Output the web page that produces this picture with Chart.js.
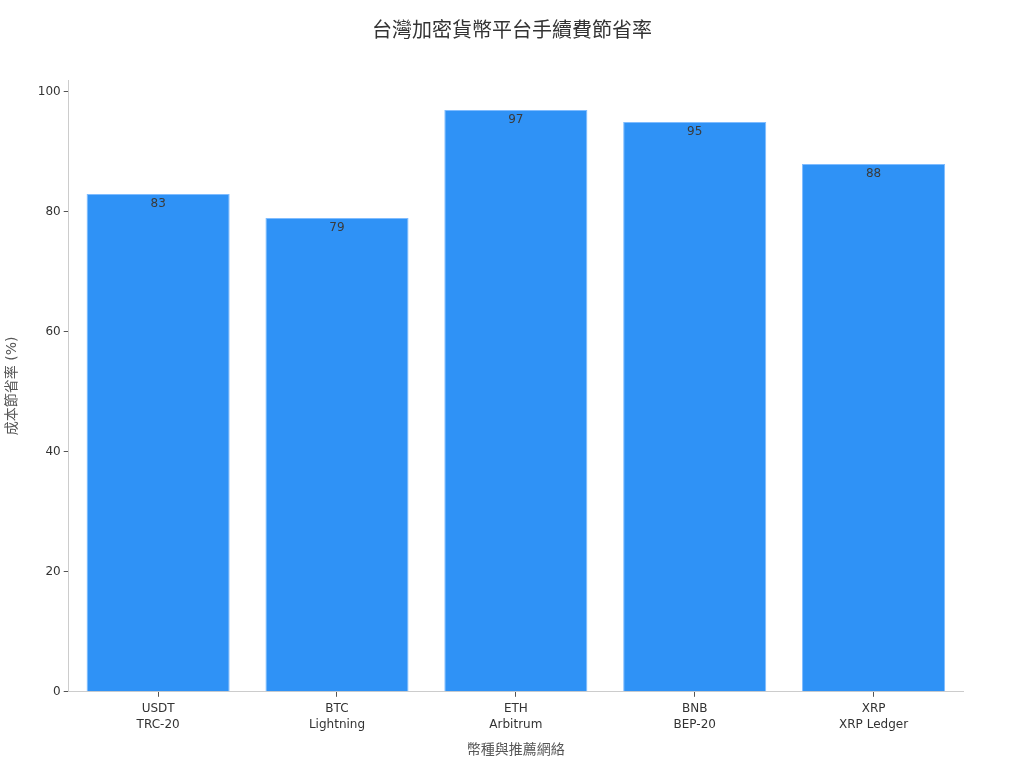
<!DOCTYPE html>
<html lang="zh-Hant">
<head>
    <meta charset="utf-8">
    <title>台灣加密貨幣平台手續費節省率</title>
    <style>
      * { margin: 0; padding: 0; }
      body { background: #ffffff; }
      .chartBox { width: 1024px; height: 768px; }
    </style>
</head>
<body>
    <div class="chartBox">
      <canvas id="savingChart"></canvas>
    </div>
    <script src="https://cdn.jsdelivr.net/npm/chart.js/dist/chart.umd.min.js"></script>
    <script>
        // data
        const chartTitle = '台灣加密貨幣平台手續費節省率';
        const coins = ['USDT', 'BTC', 'ETH', 'BNB', 'XRP'];
        const networks = ['TRC-20', 'Lightning', 'Arbitrum', 'BEP-20', 'XRP Ledger'];
        const savings = [83, 79, 97, 95, 88];
        const yTicks = [0, 20, 40, 60, 80, 100];

        const fontFamily = "'DejaVu Sans', 'Noto Sans CJK TC', sans-serif";

        // title centred on the whole canvas, not on the padded box
        const pageTitle = {
            id: 'pageTitle',
            afterDraw(chart) {
                const ctx = chart.ctx;
                ctx.save();
                ctx.font = '20px ' + fontFamily;
                ctx.fillStyle = '#333333';
                ctx.textAlign = 'center';
                ctx.textBaseline = 'middle';
                ctx.fillText(chartTitle, chart.width / 2, 32);
                ctx.restore();
            }
        };

        // writes each value just inside the top of its bar
        const valueLabels = {
            id: 'valueLabels',
            afterDatasetsDraw(chart) {
                const ctx = chart.ctx;
                const meta = chart.getDatasetMeta(0);
                ctx.save();
                ctx.font = '12px ' + fontFamily;
                ctx.fillStyle = '#3a3a3a';
                ctx.textAlign = 'center';
                ctx.textBaseline = 'top';
                meta.data.forEach((bar, i) => {
                    ctx.fillText(String(savings[i]), bar.x, bar.y + 4);
                });
                ctx.restore();
            }
        };

        new Chart(document.getElementById('savingChart'), {
            type: 'bar',
            data: {
                labels: coins.map((c, i) => [c, networks[i]]),
                datasets: [{
                    data: savings,
                    backgroundColor: '#2f92f6',
                    borderColor: '#7fbcff',
                    borderWidth: 1,
                    barPercentage: 0.8,
                    categoryPercentage: 1.0
                }]
            },
            options: {
                responsive: true,
                maintainAspectRatio: false,
                animation: false,
                layout: { padding: { top: 80, right: 61, bottom: 9, left: 0 } },
                plugins: {
                    legend: { display: false },
                    tooltip: { enabled: false },
                    title: { display: false }
                },
                scales: {
                    x: {
                        grid: { display: true, offset: false, drawOnChartArea: false, color: '#555555', tickLength: 5 },
                        border: { color: '#cccccc' },
                        ticks: {
                            color: '#333333',
                            font: { family: fontFamily, size: 12, lineHeight: 1.35 },
                            padding: 4
                        },
                        title: {
                            display: true,
                            text: '幣種與推薦網絡',
                            color: '#555555',
                            font: { family: fontFamily, size: 14 },
                            padding: { top: 5, bottom: 0 }
                        }
                    },
                    y: {
                        min: 0,
                        max: 102,
                        afterBuildTicks(scale) {
                            scale.ticks = yTicks.map(v => ({ value: v }));
                        },
                        grid: { display: true, drawOnChartArea: false, color: '#555555', tickLength: 5 },
                        border: { color: '#cccccc' },
                        ticks: { color: '#333333', font: { family: fontFamily, size: 12 }, padding: 3 },
                        title: {
                            display: true,
                            text: '成本節省率 (%)',
                            color: '#555555',
                            font: { family: fontFamily, size: 14 },
                            padding: { bottom: 14 }
                        }
                    }
                }
            },
            plugins: [valueLabels, pageTitle]
        });
    </script>
</body>
</html>
